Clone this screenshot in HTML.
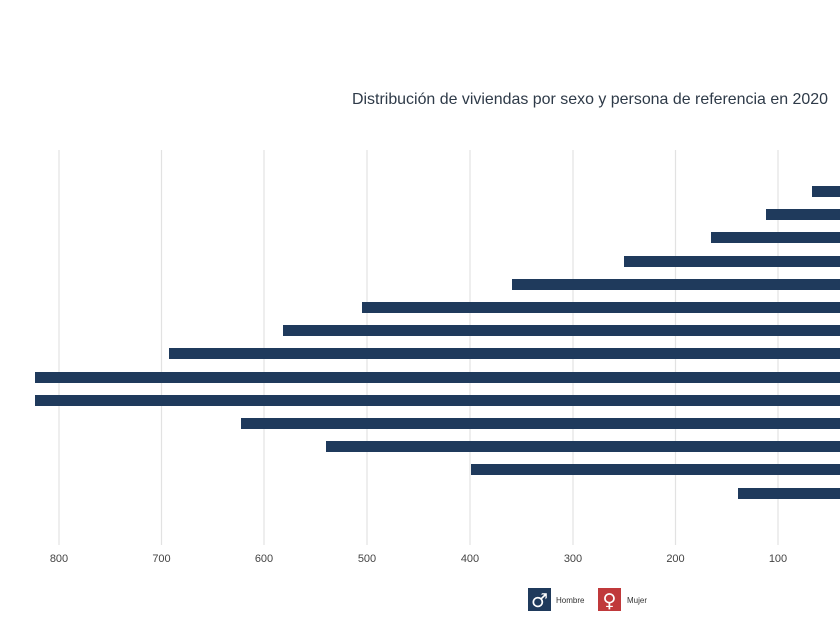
<!DOCTYPE html>
<html><head><meta charset="utf-8"><style>
html,body{margin:0;padding:0;background:#fff;}
svg{display:block;font-family:"Liberation Sans",sans-serif;}
</style></head><body>
<svg width="840" height="630" viewBox="0 0 840 630" xmlns="http://www.w3.org/2000/svg">
<rect width="840" height="630" fill="#fff"/>
<text x="352" y="104" font-size="16" fill="#2e3a48" textLength="476" lengthAdjust="spacingAndGlyphs">Distribución de viviendas por sexo y persona de referencia en 2020</text>
<g stroke="#e2e2e2" stroke-width="1.2">
<line x1="59" y1="150" x2="59" y2="545"/>
<line x1="161.5" y1="150" x2="161.5" y2="545"/>
<line x1="264" y1="150" x2="264" y2="545"/>
<line x1="367" y1="150" x2="367" y2="545"/>
<line x1="470" y1="150" x2="470" y2="545"/>
<line x1="573" y1="150" x2="573" y2="545"/>
<line x1="675.5" y1="150" x2="675.5" y2="545"/>
<line x1="778" y1="150" x2="778" y2="545"/>
</g>
<g fill="#1f3a5c">
<rect x="812" y="186" width="40" height="11"/>
<rect x="766" y="209" width="90" height="11"/>
<rect x="711" y="232" width="140" height="11"/>
<rect x="624" y="256" width="230" height="11"/>
<rect x="512" y="279" width="340" height="11"/>
<rect x="362" y="302" width="490" height="11"/>
<rect x="283" y="325" width="570" height="11"/>
<rect x="169" y="348" width="680" height="11"/>
<rect x="35" y="372" width="810" height="11"/>
<rect x="35" y="395" width="810" height="11"/>
<rect x="241" y="418" width="610" height="11"/>
<rect x="326" y="441" width="520" height="11"/>
<rect x="471" y="464" width="380" height="11"/>
<rect x="738" y="488" width="110" height="11"/>
</g>
<g font-size="11" fill="#444" text-anchor="middle">
<text x="59" y="562">800</text>
<text x="161.5" y="562">700</text>
<text x="264" y="562">600</text>
<text x="367" y="562">500</text>
<text x="470" y="562">400</text>
<text x="573" y="562">300</text>
<text x="675.5" y="562">200</text>
<text x="778" y="562">100</text>
</g>
<rect x="528" y="588" width="23" height="23" fill="#1f3a5c"/>
<text x="539.5" y="607" font-size="19" fill="#fff" text-anchor="middle" font-family="DejaVu Sans">♂</text>
<text x="556" y="603" font-size="8" fill="#333">Hombre</text>
<rect x="598" y="588" width="23" height="23" fill="#c0393b"/>
<text x="609.5" y="607" font-size="19" fill="#fff" text-anchor="middle" font-family="DejaVu Sans">♀</text>
<text x="627" y="603" font-size="8" fill="#333">Mujer</text>
</svg>
</body></html>
